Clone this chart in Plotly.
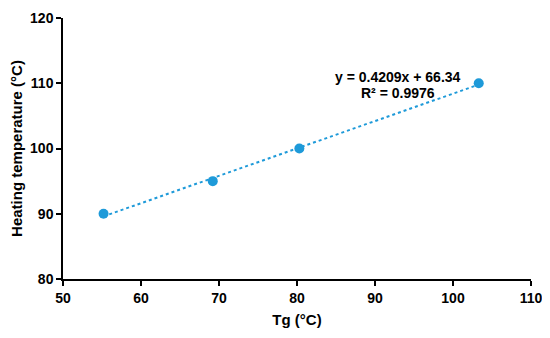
import numpy as np
import plotly.graph_objects as go

tg = [55.2, 69.2, 80.3, 103.3]
heating = [90, 95, 100, 110]
eq_text = "y = 0.4209x + 66.34"
r2_text = "R² = 0.9976"
x_ticks = [50, 60, 70, 80, 90, 100, 110]
y_ticks = [80, 90, 100, 110, 120]

color = "#1E9AD9"
font = "Liberation Sans, Arial, sans-serif"

slope, intercept = np.polyfit(tg, heating, 1)
tx = [min(tg), max(tg)]
ty = [slope * v + intercept for v in tx]

fig = go.Figure()
fig.add_trace(go.Scatter(x=tx, y=ty, mode="lines",
                         line=dict(color=color, width=2, dash="dot"),
                         hoverinfo="skip", showlegend=False))
fig.add_trace(go.Scatter(x=tg, y=heating, mode="markers",
                         marker=dict(color=color, size=10), showlegend=False))

fig.add_annotation(x=92.9, y=111.0, text="<b>" + eq_text + "</b>", showarrow=False,
                   font=dict(family=font, size=14, color="black"))
fig.add_annotation(x=92.9, y=108.5, text="<b>" + r2_text + "</b>", showarrow=False,
                   font=dict(family=font, size=14, color="black"))

axis_common = dict(showgrid=False, zeroline=False, showline=True, linecolor="black",
                   linewidth=1.5, ticks="outside", ticklen=5, tickwidth=1.5, automargin=False,
                   tickcolor="black", tickfont=dict(family=font, size=14, color="black"))

fig.update_xaxes(range=[50, 110], tickvals=x_ticks, ticktext=[f"<b>{v}</b>" for v in x_ticks],
                 title=dict(text="<b>Tg (°C)</b>", font=dict(family=font, size=15, color="black"),
                            standoff=10),
                 **axis_common)
fig.update_yaxes(range=[80, 120], tickvals=y_ticks, ticktext=[f"<b>{v}</b>" for v in y_ticks],
                 title=dict(text="<b>Heating temperature (°C)</b>",
                            font=dict(family=font, size=15, color="black"), standoff=11),
                 **axis_common)

fig.update_layout(width=550, height=338, margin=dict(l=55, r=27, t=10, b=67),
                  plot_bgcolor="white", paper_bgcolor="white")

fig.write_html("out.html")
